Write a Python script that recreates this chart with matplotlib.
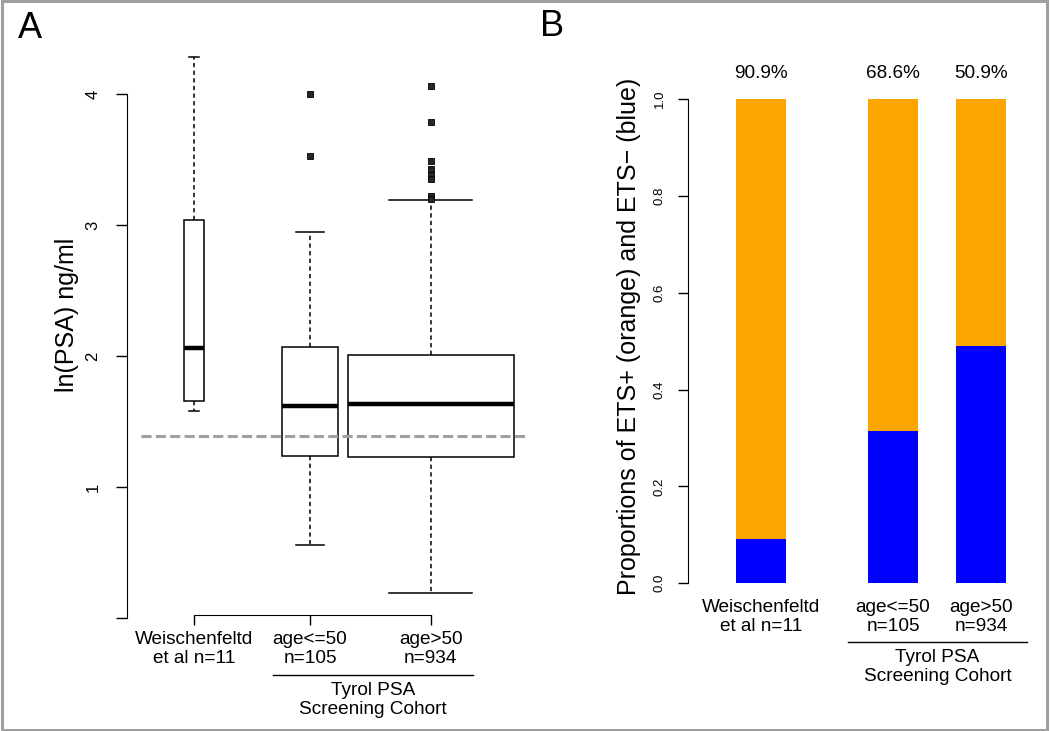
import numpy as np
import matplotlib.pyplot as plt
from matplotlib.lines import Line2D
from matplotlib.patches import Rectangle

plt.rcParams['font.family'] = ['Liberation Sans', 'DejaVu Sans']

# group labels shared by both panels
groups = ["Weischenfeltd\net al n=11", "age<=50\nn=105", "age>50\nn=934"]
n_obs = [11, 105, 934]

# panel A: box statistics of ln(PSA)
medians = [2.06, 1.62, 1.63]
q1 = [1.66, 1.24, 1.23]
q3 = [3.04, 2.07, 2.01]
whisk_lo = [1.58, 0.56, 0.19]
whisk_hi = [4.28, 2.95, 3.19]
outliers = [[], [4.00, 3.53], [4.06, 3.79, 3.49, 3.43, 3.38, 3.35, 3.22, 3.20]]
psa_cutoff = np.log(4)

# panel B: proportion ETS+ (orange) and ETS- (blue)
ets_pos = [0.909, 0.686, 0.509]
ets_neg = [0.091, 0.314, 0.491]

W, H = 1050, 731
fig = plt.figure(figsize=(W / 100, H / 100), dpi=100)


def fx(px):
    return px / W


def fy(py):
    return 1 - py / H


# ---------------- panel A ----------------
ax1 = fig.add_axes([fx(127), fy(631.1), (530.4 - 127) / W, (631.1 - 35.05) / H])
ax1.set_ylim(-0.1, 4.45)
ax1.set_xlim(0.4224, 3.9)
pos_a = [1, 2, 3.04]
# box width grows with sqrt(n), like varwidth in R
widths = [1.43 * np.sqrt(n / max(n_obs)) for n in n_obs]
widths[0] = max(widths[0], 0.18)

stats = []
for i in range(3):
    stats.append(dict(med=medians[i], q1=q1[i], q3=q3[i],
                      whislo=whisk_lo[i], whishi=whisk_hi[i], fliers=outliers[i]))

ax1.bxp(stats, positions=pos_a, widths=widths, capwidths=[w / 2 for w in widths],
        patch_artist=True, manage_ticks=False,
        boxprops=dict(facecolor='white', edgecolor='black', lw=1.1),
        medianprops=dict(color='black', lw=3.2),
        whiskerprops=dict(color='black', lw=1.1, linestyle=(0, (2.8, 2.2))),
        capprops=dict(color='black', lw=1.1),
        flierprops=dict(marker='s', markersize=4.5, markerfacecolor='0.15',
                        markeredgecolor='black', markeredgewidth=0.6))

# PSA = 4 ng/ml reference line
ax1.hlines(psa_cutoff, 0.543, 3.853, colors='#a0a0a0', lw=2.2,
           linestyles=[(0, (3.3, 1.4))], zorder=5)

ax1.spines[['top', 'right']].set_visible(False)
ax1.spines['left'].set_bounds(0, 4)
ax1.spines['bottom'].set_position(('data', 0.02))
ax1.spines['bottom'].set_bounds(pos_a[0], pos_a[-1])
ax1.set_yticks([0, 1, 2, 3, 4])
ax1.set_yticklabels(['', '1', '2', '3', '4'], rotation=90, va='center')
ax1.tick_params(axis='y', length=8, width=1, labelsize=12, pad=11)
ax1.set_xticks(pos_a)
ax1.set_xticklabels(groups, fontsize=13.7, linespacing=1.15)
ax1.tick_params(axis='x', length=7.2, width=1, pad=4)

fig.add_artist(Line2D([fx(273), fx(473)], [fy(675), fy(675)], color='black', lw=1))
fig.text(fx(373), fy(700), "Tyrol PSA\nScreening Cohort", ha='center', va='center',
         fontsize=13.7, linespacing=1.15)
fig.text(fx(67), fy(315), "ln(PSA) ng/ml", rotation=90, ha='center', va='center', fontsize=18)

# ---------------- panel B ----------------
ax2 = fig.add_axes([fx(688), fy(583.3), (1041 - 688) / W, 484.3 / H])
ax2.set_ylim(0, 1)
ax2.set_xlim(-0.46, 6.6)
pos_b = [1, 3.64, 5.4]
ax2.bar(pos_b, ets_neg, width=1, color='#0000ff')
ax2.bar(pos_b, ets_pos, bottom=ets_neg, width=1, color='#ffa500')
for x, p in zip(pos_b, ets_pos):
    ax2.annotate(f"{p * 100:.1f}%", (x, 1.0), xytext=(0, 18.7), textcoords='offset points',
                 ha='center', va='center', fontsize=13.7, annotation_clip=False)

ax2.spines[['top', 'right', 'bottom']].set_visible(False)
ax2.spines['left'].set_bounds(0, 1)
yt = [0.0, 0.2, 0.4, 0.6, 0.8, 1.0]
ax2.set_yticks(yt)
ax2.set_yticklabels([f"{v:.1f}" for v in yt], rotation=90, va='center')
ax2.tick_params(axis='y', length=7.2, width=1, labelsize=9.5, pad=9)
ax2.set_xticks(pos_b)
ax2.set_xticklabels(groups, fontsize=13.7, linespacing=1.15)
ax2.tick_params(axis='x', length=0, pad=11)

fig.add_artist(Line2D([fx(848), fx(1027)], [fy(642), fy(642)], color='black', lw=1))
fig.text(fx(937.5), fy(667), "Tyrol PSA\nScreening Cohort", ha='center', va='center',
         fontsize=13.7, linespacing=1.15)
fig.text(fx(629), fy(336.5), "Proportions of ETS+ (orange) and ETS\u2212 (blue)",
         rotation=90, ha='center', va='center', fontsize=18)

# panel letters and frame
fig.text(fx(30), fy(28), "A", ha='center', va='center', fontsize=26)
fig.text(fx(552), fy(27), "B", ha='center', va='center', fontsize=26)
fig.add_artist(Rectangle((fx(1.5), fy(729.5)), fx(1046.5) - fx(1.5), fy(1.5) - fy(729.5),
                         transform=fig.transFigure, fill=False, edgecolor='#a0a0a0', lw=2.2))

fig.savefig('out.png', dpi=100)
